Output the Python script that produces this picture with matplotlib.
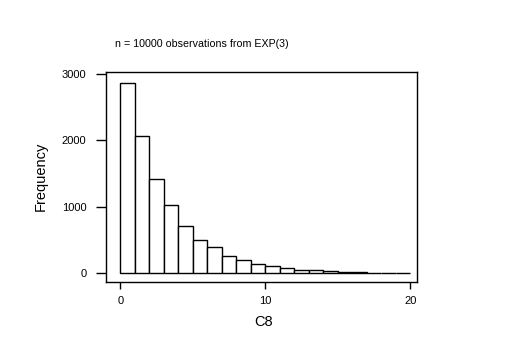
import matplotlib
matplotlib.use("Agg")
import matplotlib.pyplot as plt
import numpy as np

plt.rcParams['font.family'] = ['Liberation Sans', 'DejaVu Sans']

bin_left = list(range(0, 20))
counts = [2864, 2065, 1417, 1025, 709, 497, 392, 256, 196, 136,
          106, 75, 45, 45, 30, 20, 15, 12, 0, 0]
xticks = [0, 10, 20]
yticks = [0, 1000, 2000, 3000]

fig = plt.figure(figsize=(5.30, 3.54), dpi=100)
ax = fig.add_axes([0.2, 0.2042, 0.587, 0.5932])
ax.bar(bin_left, counts, width=1.0, align='edge', facecolor='white',
       edgecolor='black', linewidth=1.0)
ax.set_xlim(-0.99, 20.46)
ax.set_ylim(-126, 3035)
ax.set_xticks(xticks)
ax.set_yticks(yticks)
for s in ax.spines.values():
    s.set_linewidth(1.0)
ax.tick_params(axis='x', direction='out', length=5, width=1.0, pad=5, labelsize=8)
ax.tick_params(axis='y', direction='out', length=7, width=1.0, pad=7, labelsize=8)
ax.set_xlabel('C8', fontsize=10.5)
ax.xaxis.set_label_coords((263.5 - 106) / 311, -0.16)
ax.set_ylabel('Frequency', fontsize=10.5, labelpad=10)
fig.text(115/530, 1 - 44/354, 'n = 10000 observations from EXP(3)', fontsize=7.7,
         ha='left', va='center')
fig.savefig('out.png', dpi=100)
